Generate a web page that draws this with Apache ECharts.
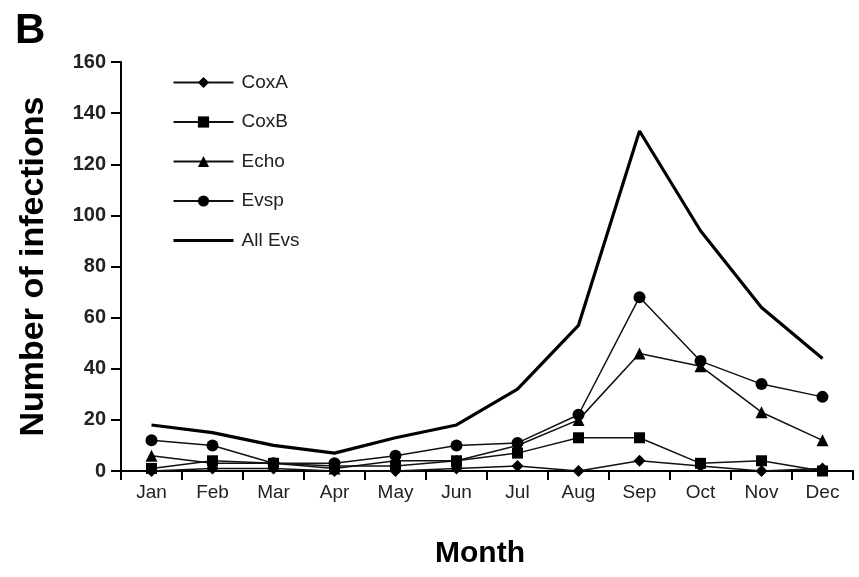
<!DOCTYPE html>
<html>
<head>
<meta charset="utf-8">
<script src="https://cdn.jsdelivr.net/npm/echarts@6/dist/echarts.min.js"></script>
<style>
html,body{margin:0;padding:0;background:#fff;}
#chart{width:859px;height:577px;}
</style>
</head>
<body>
<div id="chart"></div>
<script>
const months = ['Jan','Feb','Mar','Apr','May','Jun','Jul','Aug','Sep','Oct','Nov','Dec'];
const coxA   = [0, 1, 1, 0, 0, 1, 2, 0, 4, 2, 0, 1];
const coxB   = [1, 4, 3, 2, 2, 4, 7, 13, 13, 3, 4, 0];
const echo   = [6, 3, 3, 1, 4, 4, 10, 20, 46, 41, 23, 12];
const evsp   = [12, 10, 3, 3, 6, 10, 11, 22, 68, 43, 34, 29];
const allEvs = [18, 15, 10, 7, 13, 18, 32, 57, 133, 94, 64, 44];
const yTicks = [0, 20, 40, 60, 80, 100, 120, 140, 160];

const FONT = 'Liberation Sans, Arial, sans-serif';
const chart = echarts.init(document.getElementById('chart'), null, {renderer: 'canvas'});

function markerSeries(name, data, symbol, size) {
  return {
    name: name, type: 'line', data: data,
    symbol: symbol, symbolSize: size, showSymbol: true,
    lineStyle: {color: '#111', width: 1.5},
    itemStyle: {color: '#000'},
    emphasis: {disabled: true},
    animation: false, z: 3
  };
}

chart.setOption({
  backgroundColor: '#fff',
  animation: false,
  title: {
    text: 'B', left: 15, top: 10, padding: 0,
    textStyle: {fontFamily: FONT, fontWeight: 'bold', fontSize: 42, color: '#000'}
  },
  grid: {left: 121, right: 6, top: 62, bottom: 106, containLabel: false},
  legend: {
    orient: 'vertical', left: 172, top: 73, padding: 0,
    itemWidth: 60, itemHeight: 14, itemGap: 20.5,
    textStyle: {fontFamily: FONT, fontSize: 19, color: '#222', padding: [0,0,0,3]},
    data: [
      {name: 'CoxA'}, {name: 'CoxB'}, {name: 'Echo'}, {name: 'Evsp'},
      {name: 'All Evs', itemStyle: {opacity: 0}, lineStyle: {width: 3, color: '#000'}}
    ],
    selectedMode: false
  },
  xAxis: {
    type: 'category', data: months, boundaryGap: true,
    name: 'Month', nameLocation: 'middle', nameGap: 68,
    nameTextStyle: {fontFamily: FONT, fontWeight: 'bold', fontSize: 30, color: '#000', padding: [0, 14, 0, 0]},
    axisLine: {lineStyle: {color: '#000', width: 2}},
    axisTick: {show: true, inside: false, length: 9, alignWithLabel: false, lineStyle: {color: '#000', width: 2}},
    axisLabel: {fontFamily: FONT, fontSize: 19, color: '#222', margin: 12, interval: 0},
    splitLine: {show: false}
  },
  yAxis: {
    type: 'value', min: yTicks[0], max: yTicks[yTicks.length-1], interval: 20,
    name: 'Number of infections', nameLocation: 'middle', nameGap: 70, nameRotate: 90,
    nameTextStyle: {fontFamily: FONT, fontWeight: 'bold', fontSize: 34, color: '#000'},
    axisLine: {show: true, lineStyle: {color: '#000', width: 2}},
    axisTick: {show: true, inside: false, length: 10, lineStyle: {color: '#000', width: 2}},
    axisLabel: {fontFamily: FONT, fontSize: 20, fontWeight: 'bold', color: '#222', margin: 15},
    splitLine: {show: false}
  },
  series: [
    markerSeries('CoxA', coxA, 'diamond', 12),
    markerSeries('CoxB', coxB, 'rect', 11),
    markerSeries('Echo', echo, 'triangle', 12),
    markerSeries('Evsp', evsp, 'circle', 12),
    {
      name: 'All Evs', type: 'line', data: allEvs,
      symbol: 'none', showSymbol: false,
      lineStyle: {color: '#000', width: 3.2},
      itemStyle: {color: '#000'},
      emphasis: {disabled: true}, z: 4
    }
  ]
});
</script>
</body>
</html>
